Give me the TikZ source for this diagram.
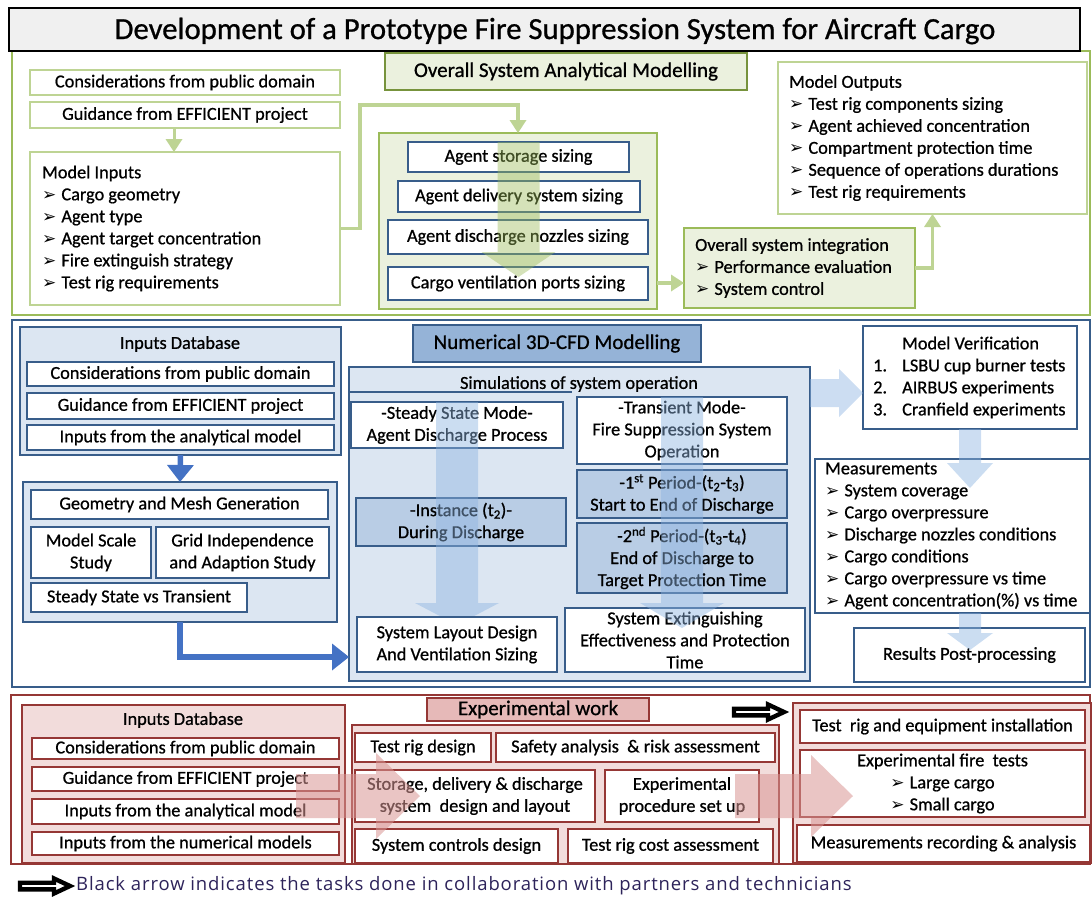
\documentclass[tikz,border=0pt]{standalone}
\usepackage{fontspec}
\setmainfont{Carlito}[FakeBold=0.8]
\newfontfamily\dejavu{DejaVu Sans}
\newfontfamily\notefont{Open Sans}[LetterSpace=4.8]
\usetikzlibrary{arrows.meta,calc}

\definecolor{GreenLine}{RGB}{155,187,89}
\definecolor{GreenSoft}{RGB}{190,212,148}
\definecolor{GreenDark}{RGB}{119,147,60}
\definecolor{GreenFill}{RGB}{235,241,222}
\definecolor{BlueLine}{RGB}{56,93,138}
\definecolor{BlueFill}{RGB}{220,230,242}
\definecolor{BlueMid}{RGB}{185,205,229}
\definecolor{BlueHead}{RGB}{149,179,215}
\definecolor{BlueArrow}{RGB}{68,114,196}
\definecolor{BlueShade}{RGB}{141,180,226}
\definecolor{RedLine}{RGB}{149,55,53}
\definecolor{RedFill}{RGB}{242,220,219}
\definecolor{RedMid}{RGB}{230,185,184}
\definecolor{RedShade}{RGB}{217,150,148}
\definecolor{NoteInk}{RGB}{45,35,90}

% box between the corners (#3,#4) and (#5,#6)
\newcommand{\cell}[7]{%
  \node[#1, minimum width={(#5-#3)*1pt}, minimum height={(#6-#4)*1pt}]
    (#2) at ({(#3+#5)/2},{(#4+#6)/2}) {#7};}
% list bullet
\newcommand{\bul}{{\dejavu\fontsize{17}{17}\selectfont ➢}\hspace{5pt}}
% shaded block arrows: style, from, to, shaft, head, head length
\newcommand{\vblock}[6]{%
  \fill[#1] let \p1=(#2), \p2=(#3) in
    (\x1-#4/2,\y1) -- (\x1+#4/2,\y1) -- (\x1+#4/2,\y2+#6) -- (\x1+#5/2,\y2+#6)
    -- (\x1,\y2) -- (\x1-#5/2,\y2+#6) -- (\x1-#4/2,\y2+#6) -- cycle;}
\newcommand{\hblock}[6]{%
  \fill[#1] let \p1=(#2), \p2=(#3) in
    (\x1,\y1+#4/2) -- (\x2-#6,\y1+#4/2) -- (\x2-#6,\y1+#5/2) -- (\x2,\y1)
    -- (\x2-#6,\y1-#5/2) -- (\x2-#6,\y1-#4/2) -- (\x1,\y1-#4/2) -- cycle;}

\tikzset{
  section/.style={draw, line width=2pt, inner sep=0pt, outer sep=0pt},
  box/.style={draw, line width=1.6pt, fill=white, inner sep=0pt, outer sep=0pt,
    align=center, text=black},
  listtext/.style={anchor=west, align=left, inner sep=0pt, text=black},
  gbox/.style={box, draw=GreenSoft},
  gpanel/.style={box, draw=GreenLine, fill=GreenFill},
  ghead/.style={box, draw=GreenDark, fill=GreenFill, font=\fontsize{21}{25}\selectfont},
  bbox/.style={box, draw=BlueLine},
  bpanel/.style={box, draw=BlueLine, fill=BlueFill},
  bshade/.style={box, draw=BlueLine, fill=BlueMid},
  bhead/.style={box, draw=BlueLine, fill=BlueHead, font=\fontsize{21}{25}\selectfont},
  rbox/.style={box, draw=RedLine},
  rpanel/.style={box, draw=RedLine, fill=RedFill},
  rhead/.style={box, draw=RedLine, fill=RedMid, font=\fontsize{21}{25}\selectfont},
  gcon/.style={draw=GreenSoft, line width=3.5pt,
    -{Triangle[width=17pt,length=13pt,line width=0pt]}},
  bcon/.style={draw=BlueArrow, line width=5.5pt,
    -{Triangle[width=27pt,length=17pt,line width=0pt]}},
  gshade/.style={fill=GreenLine, opacity=0.42},
  bshadearr/.style={fill=BlueShade, opacity=0.45},
  rshade/.style={fill=RedShade, opacity=0.55},
  collab/.pic={\draw[line width=4.4pt, fill=white, line join=miter, miter limit=3]
    (0,-3.3) -- (34,-3.3) -- (34,-7.5) -- (50,0) -- (34,7.5) -- (34,3.3) -- (0,3.3) -- cycle;}
}

\begin{document}
\begin{tikzpicture}[x=1pt, y=-1pt, font=\fontsize{18.3}{22}\selectfont]
    \useasboundingbox (0,0) rectangle (1092,897);
    % Sections
    \cell{section, draw=GreenLine}{gsec}{12}{51}{1090}{315}{}
    \cell{section, draw=BlueLine}{bsec}{12}{320}{1090}{687}{}
    \cell{section, draw=RedLine}{rsec}{11}{695}{1090}{864}{}
    % Title
    \cell{section, draw=black, fill=black!6}{title}{9}{8}{1080}{51}{}
    \node[font=\fontsize{30.7}{34}\selectfont] (ttl) at (555,31)
        {Development of a Prototype Fire Suppression System for Aircraft Cargo};

    % Overall system analytical modelling
    \cell{ghead}{ghd}{385}{53}{747}{90}{Overall System Analytical Modelling}
    \cell{gbox}{gcons}{30}{70}{340}{95}{Considerations from public domain}
    \cell{gbox}{gguid}{30}{102}{340}{128}{Guidance from EFFICIENT project}
    \cell{gbox}{minp}{30}{152}{340}{305}{}
    \node[listtext] (minpt) at ([xshift=12pt]minp.west)
        {Model Inputs\\ \bul Cargo geometry\\ \bul Agent type\\ \bul Agent target concentration\\
         \bul Fire extinguish strategy\\ \bul Test rig requirements};
    \cell{gpanel}{anag}{379}{133}{657}{309}{}
    \cell{bbox}{stor}{408}{142}{629}{172}{Agent storage sizing}
    \cell{bbox}{deliv}{398}{181}{640}{212}{Agent delivery system sizing}
    \cell{bbox}{nozz}{388}{220}{648}{254}{Agent discharge nozzles sizing}
    \cell{bbox}{ports}{388}{267}{648}{300}{Cargo ventilation ports sizing}
    \cell{gpanel}{integ}{684}{228}{915}{308}{}
    \node[listtext] (integt) at ([xshift=11pt]integ.west)
        {Overall system integration\\ \bul Performance evaluation\\ \bul System control};
    \cell{gbox}{mout}{778}{62}{1087}{214}{}
    \node[listtext] (moutt) at ([xshift=11pt]mout.west)
        {Model Outputs\\ \bul Test rig components sizing\\ \bul Agent achieved concentration\\
         \bul Compartment protection time\\ \bul Sequence of operations durations\\
         \bul Test rig requirements};
    \vblock{gshade}{stor.north}{$(ports.north)+(0,10)$}{42pt}{74pt}{25pt}
    \draw[gcon, line width=3pt] ([xshift=-11pt]gguid.south) -- ([xshift=-11pt]minp.north);
    \draw[gcon] (minp.east) -- (minp.east -| 360,0) |- (anag.north |- 0,105) -- (anag.north);
    \draw[gcon] (anag.east |- 0,283) -- (integ.west |- 0,283);
    \draw[gcon] (integ.east) -| (mout.south);

    % Numerical 3D-CFD modelling
    \cell{bhead}{bhd}{413}{325}{701}{362}{Numerical 3D-CFD Modelling}
    \cell{bpanel}{idb}{20}{327}{341}{455}{}
    \node (idbt) at (180,344) {Inputs Database};
    \cell{bbox}{bcons}{27}{362}{334}{386}{Considerations from public domain}
    \cell{bbox}{bguid}{27}{393}{334}{419}{Guidance from EFFICIENT project}
    \cell{bbox}{banal}{27}{425}{334}{450}{Inputs from the analytical model}
    \cell{bpanel}{geo}{23}{482}{337}{622}{}
    \cell{bbox}{mesh}{31}{490}{328}{519}{Geometry and Mesh Generation}
    \cell{bbox}{mscale}{31}{527}{151}{578}{Model Scale\\Study}
    \cell{bbox}{gridst}{156}{527}{329}{578}{Grid Independence\\and Adaption Study}
    \cell{bbox}{svt}{31}{583}{247}{612}{Steady State vs Transient}
    \cell{bpanel}{simg}{349}{367}{810}{681}{}
    \node (simt) at (579,384) {Simulations of system operation};
    \draw[BlueLine, line width=1.6pt] (simg.west |- 0,392) -- (572,392);
    \cell{bbox}{steady}{351}{402}{563}{448}{-Steady State Mode-\\Agent Discharge Process}
    \cell{bshade}{inst}{356}{498}{566}{546}{-Instance (t\textsubscript{2})-\\During Discharge}
    \vblock{bshadearr}{steady.north}{steady.north |- 0,625}{42pt}{84pt}{22pt}
    \cell{bbox}{layout}{357}{617}{557}{672}{System Layout Design\\And Ventilation Sizing}
    \cell{bbox}{trans}{577}{397}{787}{464}{-Transient Mode-\\Fire Suppression System\\Operation}
    \cell{bshade}{per1}{577}{470}{787}{518}
        {-1\textsuperscript{st} Period-(t\textsubscript{2}-t\textsubscript{3})\\Start to End of Discharge}
    \cell{bshade}{per2}{577}{523}{787}{593}
        {-2\textsuperscript{nd} Period-(t\textsubscript{3}-t\textsubscript{4})\\End of Discharge to\\Target Protection Time}
    \cell{bbox}{extg}{565}{608}{805}{672}{System Extinguishing\\Effectiveness and Protection\\Time}
    \vblock{bshadearr}{trans.north}{$(extg.north)+(0,20)$}{42pt}{84pt}{25pt}
    \cell{bbox}{mver}{863}{326}{1077}{429}{}
    \node[listtext] (mvert) at ([xshift=10pt]mver.west)
        {\hspace*{29pt}Model Verification\\ \makebox[29pt][l]{1.}LSBU cup burner tests\\
         \makebox[29pt][l]{2.}AIRBUS experiments\\ \makebox[29pt][l]{3.}Cranfield experiments};
    \cell{bbox}{meas}{815}{459}{1090}{613}{}
    \node[listtext] (meast) at ([xshift=10pt]meas.west)
        {Measurements\\ \bul System coverage\\ \bul Cargo overpressure\\
         \bul Discharge nozzles conditions\\ \bul Cargo conditions\\
         \bul Cargo overpressure vs time\\ \bul Agent concentration(\%) vs time};
    \cell{bbox}{res}{854}{628}{1085}{682}{Results Post-processing}
    \hblock{bshadearr}{simg.east |- 0,393}{mver.west |- 0,393}{28pt}{48pt}{24pt}
    \vblock{bshadearr}{mver.south}{$(meas.north)+(0,29)$}{22pt}{46pt}{25pt}
    \vblock{bshadearr}{mver.south |- meas.south}{$(res.north)+(0,22)$}{22pt}{46pt}{17pt}
    \draw[bcon] (idb.south) -- (geo.north);
    \draw[bcon] (geo.south) |- (simg.west |- 0,657);

    % Experimental work
    \cell{rpanel}{ridb}{22}{705}{345}{863}{}
    \node (ridbt) at (183,720) {Inputs Database};
    \cell{rbox}{rcons}{32}{738}{339}{759}{Considerations from public domain}
    \cell{rbox}{rguid}{32}{767}{339}{791}{Guidance from EFFICIENT project}
    \cell{rbox}{ranal}{32}{799}{339}{824}{Inputs from the analytical model}
    \cell{rbox}{rnum}{32}{832}{339}{855}{Inputs from the numerical models}
    \cell{rhead}{rhd}{427}{698}{649}{721}{Experimental work}
    \cell{rpanel}{expg}{352}{725}{779}{864}{}
    \cell{rbox}{trd}{355}{733}{491}{762}{Test rig design}
    \cell{rbox}{safe}{496}{733}{775}{762}{Safety analysis\ \ \& risk assessment}
    \cell{rbox}{sdd}{355}{770}{595}{822}{Storage, delivery \& discharge\\system\ \ design and layout}
    \cell{rbox}{proc}{605}{770}{759}{822}{Experimental\\procedure set up}
    \cell{rbox}{ctrl}{355}{829}{558}{863}{System controls design}
    \cell{rbox}{cost}{568}{829}{773}{863}{Test rig cost assessment}
    \cell{rpanel}{rgrp}{793}{703}{1091}{863}{}
    \cell{rbox}{rig}{800}{710}{1085}{743}{Test\ \ rig and equipment installation}
    \cell{rbox}{fire}{800}{750}{1085}{817}{Experimental fire\ \ tests\\ \bul Large cargo\\ \bul Small cargo}
    \cell{rbox}{mrec}{797}{825}{1090}{862}{Measurements recording \& analysis}
    \hblock{rshade}{$(ridb.east |- sdd.center)+(-49,0)$}{$(expg.west |- sdd.center)+(68,0)$}{44pt}{86pt}{44pt}
    \hblock{rshade}{$(expg.east |- sdd.center)+(-44,0)$}{$(rgrp.west |- sdd.center)+(60,0)$}{44pt}{82pt}{42pt}
    \pic at (734,712) {collab};

    % Note
    \pic at (20,886) {collab};
    \node[anchor=west, inner sep=0pt, text=NoteInk, font=\notefont\fontsize{18.5}{22}\selectfont]
        (note) at (76,886) {Black arrow indicates the tasks done in collaboration with partners and technicians};
\end{tikzpicture}
\end{document}
